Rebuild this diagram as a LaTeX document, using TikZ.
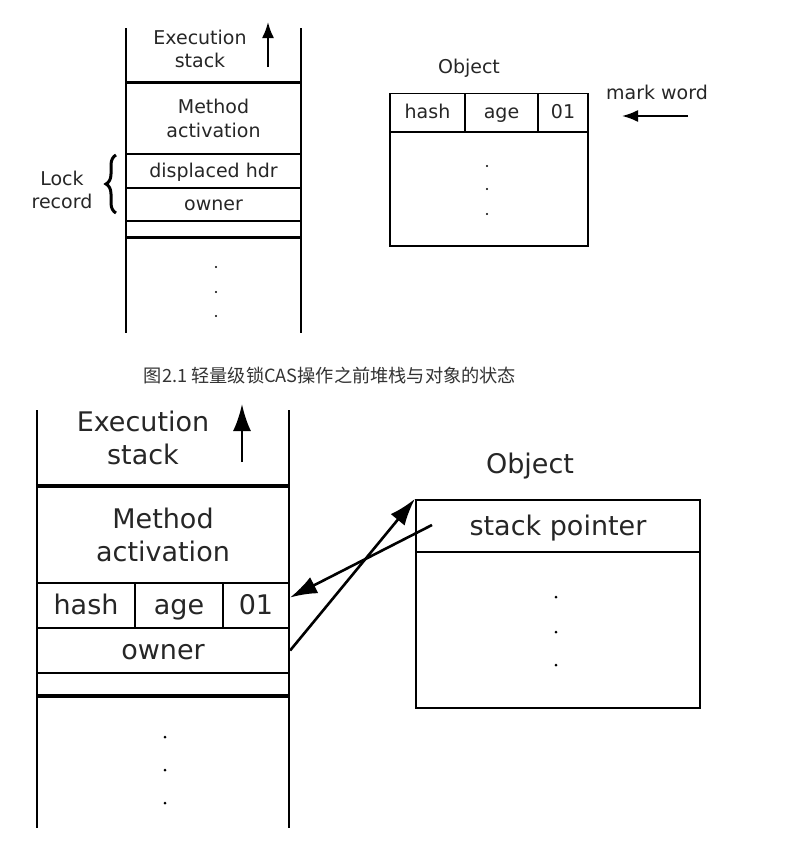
\documentclass[tikz,border=0pt]{standalone}
\usepackage{fontspec}
\setmainfont{DejaVu Sans}
\newfontfamily\cjk{Noto Sans CJK SC}
\usetikzlibrary{arrows.meta, positioning, decorations.pathreplacing}

\begin{document}
\begin{tikzpicture}[
    x=1pt, y=-1pt,
    every node/.style={text=black!85},
    small/.style={font=\fontsize{19}{23.5}\selectfont},
    big/.style={font=\fontsize{27}{33.5}\selectfont},
    cell/.style={rectangle, draw, inner sep=0pt, align=center},
    smallcell/.style={cell, small, text height=14pt, text depth=1.5pt},
    bigcell/.style={cell, big, text height=20pt, text depth=2pt},
    thinA/.style={line width=1.4pt},
    thickA/.style={line width=3pt},
    thinB/.style={line width=2.2pt},
    thickB/.style={line width=4.5pt},
    arrowA/.style={-{Latex[length=16pt, width=12pt]}, line width=2pt},
    arrowB/.style={-{Latex[length=27pt, width=18pt]}, line width=2.6pt},
    dot/.style={circle, fill, inner sep=0pt, minimum size=2.4pt}
]
\useasboundingbox (0,0) rectangle (811,841);

% ============ BEFORE CAS (TOP) ============
% Execution stack
\draw[thinA] (126,28) -- (126,333);
\draw[thinA] (301,28) -- (301,333);
\node[small, align=center] (exec1) at (200,49) {Execution\\stack};
\coordinate (up1a) at (268,67);
\coordinate (up1b) at (268,22);
\draw[arrowA] (up1a) -- (up1b);

\node[cell, thinA, small, minimum width=175pt, minimum height=71pt] (mact1) at (213.5,118.5) {Method\\activation};
\node[smallcell, thinA, minimum width=175pt, minimum height=34pt] (dhdr1) at (213.5,171) {displaced hdr};
\node[smallcell, thinA, minimum width=175pt, minimum height=33pt] (owner1) at (213.5,204.5) {owner};
\draw[thickA] (mact1.north west) -- (mact1.north east);
\draw[thickA] (126,237) -- (301,237);
\foreach \y [count=\i] in {267,292,316}
    \node[dot] (sdot1\i) at (216,\y) {};

% Lock record
\draw[decorate, decoration={brace, amplitude=10pt}, line width=3pt]
    (116,213) -- (116,155);
\node[small, align=center] (lock1) at (62,190) {Lock\\record};

% Object with mark word
\node[small] (obj1) at (469,68) {Object};
\node[smallcell, thinA, minimum width=75pt, minimum height=38.5pt] (hash1) at (427.5,112.7) {hash};
\node[smallcell, thinA, minimum width=73pt, minimum height=38.5pt] (age1) at (501.5,112.7) {age};
\node[smallcell, thinA, minimum width=50pt, minimum height=38.5pt] (flag1) at (563,112.7) {01};
\node[cell, thinA, minimum width=198pt, minimum height=114pt] (body1) at (489,189) {};
\foreach \y [count=\i] in {166,189,214}
    \node[dot] (odot1\i) at (487,\y) {};

\node[small] (mark1) at (657,92) {mark word};
\coordinate (mw1a) at (688,116);
\coordinate (mw1b) at (622,116);
\draw[arrowA] (mw1a) -- (mw1b);

% Caption
\node[font=\fontsize{18.2}{20}\selectfont\cjk, text=black!80] (cap) at (330,376)
    {图2.1 轻量级锁CAS操作之前堆栈与对象的状态};

% ============ AFTER CAS (BOTTOM) ============
% Execution stack
\draw[thinB] (37,410) -- (37,828);
\draw[thinB] (289,410) -- (289,828);
\node[big, align=center] (exec2) at (143,438) {Execution\\stack};
\coordinate (up2a) at (242,462);
\coordinate (up2b) at (242,404);
\draw[arrowB] (up2a) -- (up2b);

\node[cell, thinB, big, minimum width=252pt, minimum height=96pt] (mact2) at (163,535) {Method\\activation};
\node[bigcell, thinB, minimum width=98pt, minimum height=45pt] (hash2) at (86,605.5) {hash};
\node[bigcell, thinB, minimum width=88pt, minimum height=45pt] (age2) at (179,605.5) {age};
\node[bigcell, thinB, minimum width=66pt, minimum height=45pt] (flag2) at (256,605.5) {01};
\node[bigcell, thinB, minimum width=252pt, minimum height=45pt] (owner2) at (163,650.5) {owner};
\draw[thickB] (mact2.north west) -- (mact2.north east);
\draw[thickB] (37,696) -- (289,696);
\foreach \y [count=\i] in {737,770,803}
    \node[dot, minimum size=3pt] (sdot2\i) at (165,\y) {};

% Object pointing to the stack
\node[big] (obj2) at (530,466) {Object};
\node[bigcell, thinB, minimum width=284pt, minimum height=52pt] (sp2) at (558,526) {stack pointer};
\node[cell, thinB, minimum width=284pt, minimum height=156pt] (body2) at (558,630) {};
\foreach \y [count=\i] in {597,632,665}
    \node[dot, minimum size=3pt] (odot2\i) at (556,\y) {};

% CAS arrows
\coordinate (sptail) at (432,525);
\draw[arrowB] (owner2.east) -- (sp2.north west);
\draw[arrowB] (sptail) -- ([yshift=8pt]flag2.east);

\end{tikzpicture}
\end{document}
